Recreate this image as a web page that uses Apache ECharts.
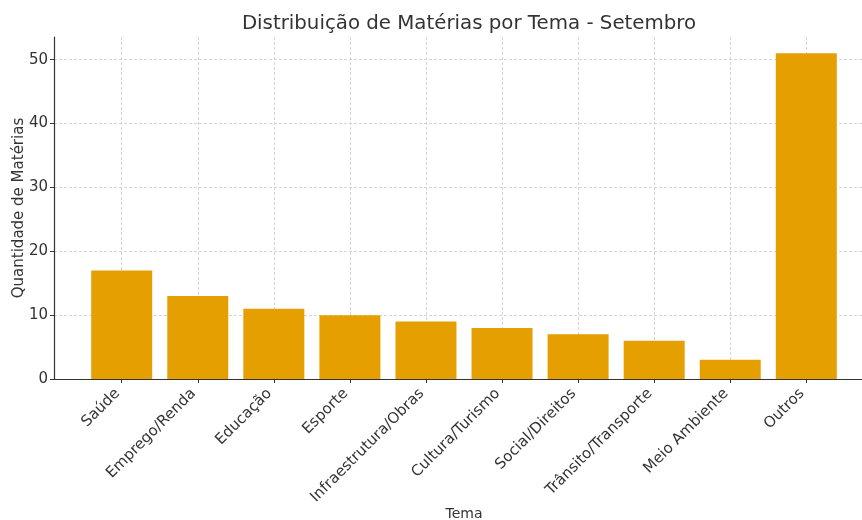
<!DOCTYPE html>
<html>
<head>
<meta charset="utf-8">
<script src="https://cdn.jsdelivr.net/npm/echarts@6/dist/echarts.min.js"></script>
<style>html,body{margin:0;padding:0;background:#fff}#c{width:862px;height:520px}</style>
</head>
<body>
<div id="c"></div>
<script>
const categories = ["Saúde","Emprego/Renda","Educação","Esporte","Infraestrutura/Obras","Cultura/Turismo","Social/Direitos","Trânsito/Transporte","Meio Ambiente","Outros"];
const values = [17, 13, 11, 10, 9, 8, 7, 6, 3, 51];
const yTicks = [0, 10, 20, 30, 40, 50];

const idx = categories.map((_, i) => i);
const chart = echarts.init(document.getElementById('c'), null, {renderer: 'canvas'});
const font = 'DejaVu Sans';
chart.setOption({
  animation: false,
  backgroundColor: '#fff',
  title: {
    text: 'Distribuição de Matérias por Tema - Setembro',
    left: 464, top: 9, textAlign: 'center',
    textStyle: {fontFamily: font, fontSize: 19.8, fontWeight: 'normal', color: '#333'}
  },
  grid: {left: 54, width: 820, top: 37, bottom: 141, containLabel: false, outerBoundsMode: 'none'},
  xAxis: {
    type: 'value', min: -0.89, max: 9.89,
    name: 'Tema', nameLocation: 'middle', nameGap: 128, nameMoveOverlap: false,
    nameTextStyle: {fontFamily: font, fontSize: 14, color: '#333'},
    axisLine: {show: true, onZero: false, lineStyle: {color: '#333', width: 1.2}},
    axisTick: {show: true, inside: false, length: 4, customValues: idx, lineStyle: {color: '#333'}},
    axisLabel: {
      customValues: idx, rotate: 45, margin: 8, padding: [0, 6, 0, 0],
      fontFamily: font, fontSize: 15, color: '#333',
      formatter: v => categories[Math.round(v)] || ''
    },
    splitLine: {show: true, lineStyle: {color: '#cccccc', type: [3, 2], width: 0.8}}
  },
  yAxis: {
    type: 'value', min: 0, max: 53.55,
    name: 'Quantidade de Matérias', nameLocation: 'middle', nameGap: 27, nameRotate: 90, nameMoveOverlap: false,
    nameTextStyle: {fontFamily: font, fontSize: 15, color: '#333'},
    axisLine: {show: true, onZero: false, lineStyle: {color: '#333', width: 1.2}},
    axisTick: {show: true, inside: false, length: 4, customValues: yTicks, lineStyle: {color: '#333'}},
    axisLabel: {customValues: yTicks, margin: 6, fontFamily: font, fontSize: 15, color: '#333'},
    splitLine: {show: true, lineStyle: {color: '#cccccc', type: [3, 2], width: 0.8}}
  },
  series: [{
    type: 'bar',
    data: values.map((v, i) => [i, v]),
    barWidth: 61,
    itemStyle: {color: '#E69F00'},
    z: 1
  }]
});
</script>
</body>
</html>
